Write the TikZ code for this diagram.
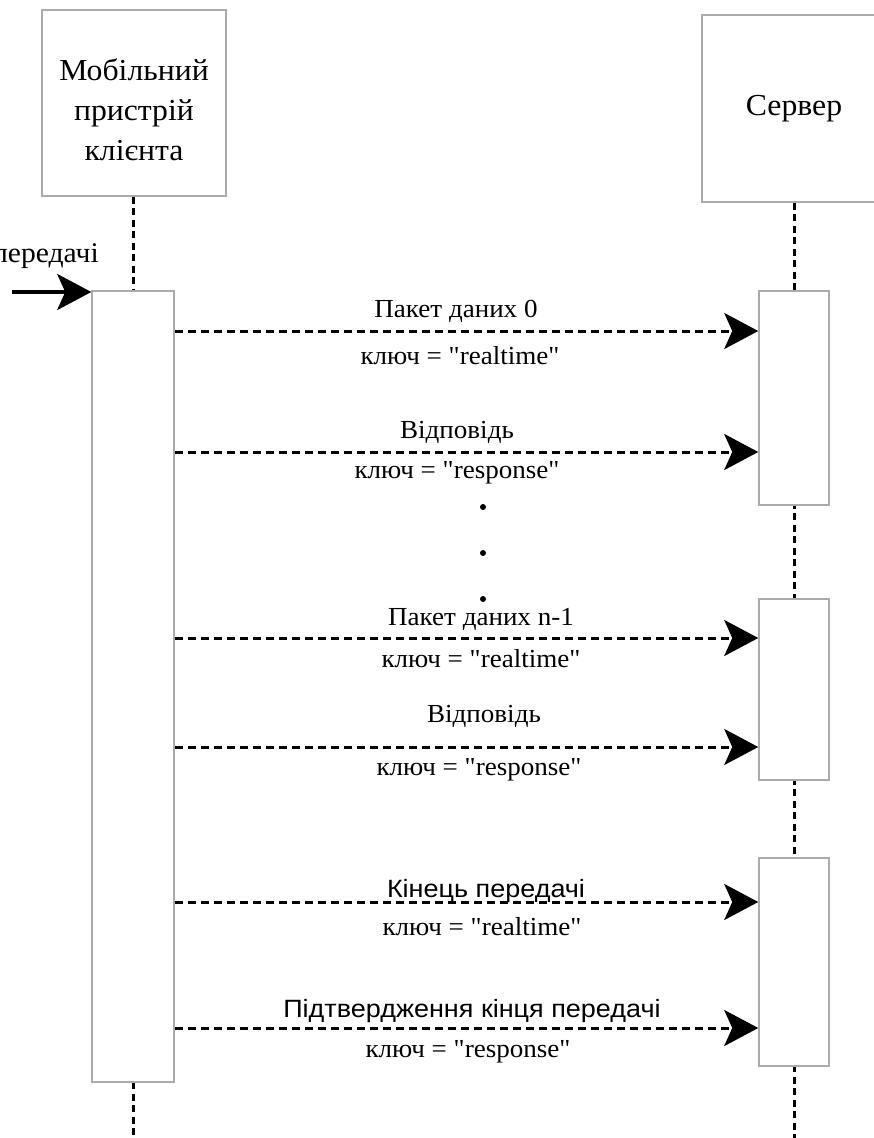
\documentclass[tikz,border=0pt]{standalone}
\usepackage{fontspec}
\setmainfont{Liberation Serif}[FakeStretch=1.04, Ligatures=TeXOff]
\newfontfamily\labelsans{Liberation Sans}[FakeStretch=1.08, Ligatures=TeXOff]
\usetikzlibrary{arrows.meta}
\definecolor{boxgray}{HTML}{ABABAB}
\tikzset{
  lifebox/.style={draw=boxgray, line width=1.5pt, fill=white, inner sep=0pt},
  lifeline/.style={line width=3pt, dash pattern=on 7pt off 4.5pt},
  bigtip/.style={-{Stealth[length=34pt,width=36pt,inset=8pt]}},
  msg/.style={bigtip, line width=3pt, dash pattern=on 8pt off 5pt},
  lbl/.style={font=\fontsize{26}{30}\selectfont, anchor=base, inner sep=0pt},
  sanslbl/.style={font=\labelsans\fontsize{25}{29}\selectfont, anchor=base, inner sep=0pt},
  headtext/.style={font=\fontsize{30.5}{40}\selectfont, align=center, inner sep=0pt},
  dot/.style={circle, fill=black, inner sep=0pt, minimum size=6pt},
}
\begin{document}
\begin{tikzpicture}[x=1pt, y=-1pt]
\clip (0,0) rectangle (874,1138);
\fill[white] (0,0) rectangle (874,1138);

% participants
\node[lifebox, minimum width=184pt, minimum height=186pt] (client) at (134,103) {};
\node[headtext] (clientName) at (134,110) {Мобільний\\пристрій\\клієнта};
\node[lifebox, minimum width=184pt, minimum height=187pt, headtext] (server) at (794,108.5) {Сервер};

% lifelines
\coordinate (clientEnd) at (133,1140);
\coordinate (serverEnd) at (794,1140);
\draw[lifeline] (client.south -| clientEnd) -- (clientEnd);
\draw[lifeline] (server.south) -- (serverEnd);

% activation bars
\node[lifebox, minimum width=82pt, minimum height=791pt] (act) at (133,686.5) {};
\node[lifebox, minimum width=70pt, minimum height=214pt] (s1) at (794,398) {};
\node[lifebox, minimum width=70pt, minimum height=181pt] (s2) at (794,689.5) {};
\node[lifebox, minimum width=70pt, minimum height=208pt] (s3) at (794,962) {};

% incoming call
\coordinate (inStart) at (12,292);
\draw[bigtip, line width=3.5pt] (inStart) -- (act.north west |- inStart);
\node[lbl, anchor=base east, font=\fontsize{28.5}{32}\selectfont] (inLbl) at (99,262) {передачі};

% message rows
\coordinate (m1) at (0,331);
\coordinate (m2) at (0,452);
\coordinate (m3) at (0,638);
\coordinate (m4) at (0,747);
\coordinate (m5) at (0,902);
\coordinate (m6) at (0,1028);

\draw[msg] (act.east |- m1) -- (s1.west |- m1);
\draw[msg] (act.east |- m2) -- (s1.west |- m2);
\draw[msg] (act.east |- m3) -- (s2.west |- m3);
\draw[msg] (act.east |- m4) -- (s2.west |- m4);
\draw[msg] (act.east |- m5) -- (s3.west |- m5);
\draw[msg] (act.east |- m6) -- (s3.west |- m6);

\node[lbl] (t1a) at (456,317) {Пакет даних 0};
\node[lbl] (t1b) at (460,364) {ключ = "realtime"};
\node[lbl] (t2a) at (457,438) {Відповідь};
\node[lbl] (t2b) at (457,478) {ключ = "response"};
\node[lbl] (t3a) at (481,625) {Пакет даних n-1};
\node[lbl] (t3b) at (481,667) {ключ = "realtime"};
\node[lbl] (t4a) at (484,722) {Відповідь};
\node[lbl] (t4b) at (479,775) {ключ = "response"};
\node[sanslbl] (t5a) at (486,897) {Кінець передачі};
\node[lbl] (t5b) at (482,935) {ключ = "realtime"};
\node[sanslbl] (t6a) at (472,1017) {Підтвердження кінця передачі};
\node[lbl] (t6b) at (468,1057) {ключ = "response"};

% continuation dots
\node[dot] (d1) at (483,507) {};
\node[dot] (d2) at (483,553) {};
\node[dot] (d3) at (483,599) {};
\end{tikzpicture}
\end{document}
